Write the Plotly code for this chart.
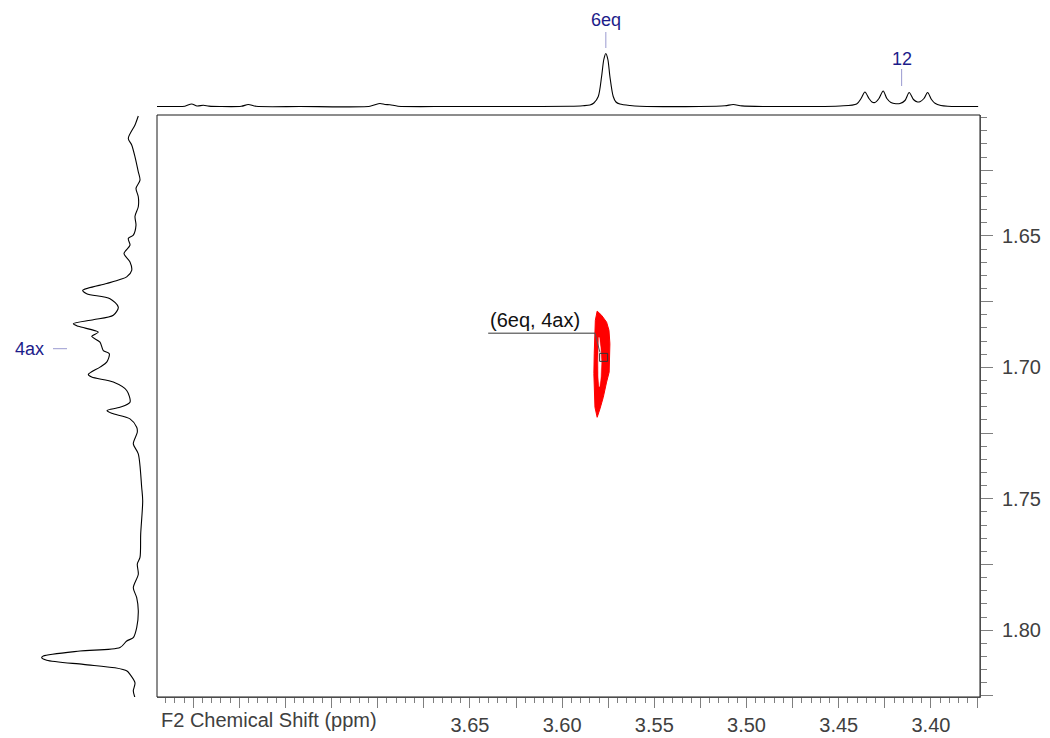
import plotly.graph_objects as go

# ---------------- data ----------------
# F2 (top) 1D projection: chemical shift (ppm) and intensity (a.u.)
top_ppm = [3.8197, 3.8100, 3.8046, 3.8009, 3.7980, 3.7946, 3.7915, 3.7856, 3.7740, 3.7702,
           3.7660, 3.7422, 3.7042, 3.6988, 3.6961, 3.6934, 3.6890, 3.6608, 3.6229, 3.5958,
           3.5887, 3.5849, 3.5828, 3.5804, 3.5786, 3.5774, 3.5763, 3.5752, 3.5741, 3.5723,
           3.5708, 3.5687, 3.5632, 3.5578, 3.5253, 3.5117, 3.5072, 3.5025, 3.4891, 3.4710,
           3.4493, 3.4403, 3.4379, 3.4358, 3.4336, 3.4320, 3.4304, 3.4282, 3.4259, 3.4239,
           3.4217, 3.4190, 3.4168, 3.4141, 3.4118, 3.4095, 3.4073, 3.4060, 3.4038, 3.4018,
           3.3997, 3.3978, 3.3946, 3.3908, 3.3744]
top_int = [0, 0, 0.3, 2.5, 0.5, 1.2, 0.4, 0, 0.2, 2.0,
           0.2, 0, 0.3, 3.0, 2.0, 1.8, 0.3, 0, 0, 0.3,
           0.8, 1.5, 3.5, 10, 30, 47, 53, 47, 30, 10,
           4.5, 2.5, 1.0, 0.3, 0, 0.7, 2.0, 0.6, 0, 0,
           0.5, 2.5, 8, 14.5, 8, 4.5, 4.0, 8, 15.5, 8,
           4.0, 2.8, 3.0, 6, 14, 7, 4.5, 4.8, 8, 14,
           7, 3.2, 1.0, 0.3, 0]

# F1 (left) 1D projection
left_ppm = [1.6044, 1.6078, 1.6129, 1.6154, 1.6199, 1.6256, 1.6288, 1.6319, 1.6351, 1.6389,
            1.6425, 1.6459, 1.6497, 1.6510, 1.6535, 1.6567, 1.6599, 1.6631, 1.6656, 1.6666,
            1.6681, 1.6707, 1.6720, 1.6739, 1.6771, 1.6802, 1.6819, 1.6834, 1.6844, 1.6866,
            1.6882, 1.6904, 1.6936, 1.6948, 1.6980, 1.6999, 1.7027, 1.7037, 1.7056, 1.7088,
            1.7133, 1.7152, 1.7164, 1.7175, 1.7196, 1.7228, 1.7247, 1.7291, 1.7329, 1.7457,
            1.7507, 1.7634, 1.7723, 1.7748, 1.7787, 1.7838, 1.7876, 1.7926, 1.7990, 1.8028,
            1.8041, 1.8066, 1.8079, 1.8098, 1.8104, 1.8114, 1.8130, 1.8143, 1.8155, 1.8168,
            1.8200, 1.8231, 1.8257]
left_int = [4.7, 8, 14.7, 11.3, 8, 4.7, 3, 7, 4.7, 4.7,
            8, 7, 9.7, 14.7, 13, 19, 13, 11.3, 16.3, 23,
            36.3, 60.3, 56.3, 33, 24.7, 29.7, 49.7, 69.7, 64.7, 44.7,
            51.3, 43, 39.7, 33.7, 36.3, 43, 54.7, 51.3, 29.7, 16.3,
            13, 23, 36, 31.3, 13, 6.3, 5.7, 9.7, 4.7, 1.3,
            0.3, 2.3, 3, 5.7, 4.7, 9.7, 6.3, 4.7, 6.3, 9.7,
            16.3, 23, 63, 99.7, 101.3, 96.3, 59.7, 28, 16, 13,
            8, 9.7, 8]

# 2D cross peak (6eq, 4ax) contour outline (F2 ppm, F1 ppm)
cross_outer_f2 = [3.5810, 3.5786, 3.5759, 3.5746, 3.5741, 3.5741, 3.5745, 3.5759, 3.5777, 3.5795,
                  3.5810, 3.5822, 3.5826, 3.5828, 3.5826, 3.5824, 3.5820, 3.5810]
cross_outer_f1 = [1.6786, 1.6802, 1.6828, 1.6859, 1.6910, 1.6974, 1.7018, 1.7056, 1.7114, 1.7158,
                  1.7190, 1.7152, 1.7088, 1.7024, 1.6948, 1.6872, 1.6821, 1.6786]
cross_inner_f2 = [3.5800, 3.5792, 3.5788, 3.5791, 3.5798, 3.5803, 3.5804, 3.5803, 3.5800]
cross_inner_f1 = [1.6886, 1.6928, 1.6981, 1.7035, 1.7073, 1.7035, 1.6974, 1.6924, 1.6886]

# peak pick of the cross peak
cross_pick_f2 = [3.5775]
cross_pick_f1 = [1.6962]
cross_label = "(6eq, 4ax)"

# assignment labels
top_labels = ["6eq", "12"]
top_label_ppm = [3.5763, 3.4159]
left_labels = ["4ax"]
left_label_ppm = [1.6929]

# axes
x_range = [3.8197, 3.3734]
y_range = [1.8254, 1.604]
x_tick_vals = [3.80, 3.775, 3.75, 3.725, 3.70, 3.675, 3.65, 3.625, 3.60, 3.575,
               3.55, 3.525, 3.50, 3.475, 3.45, 3.425, 3.40, 3.375]
x_tick_text = ["", "", "", "", "", "", "3.65", "", "3.60", "",
               "3.55", "", "3.50", "", "3.45", "", "3.40", ""]
y_tick_vals = [1.625, 1.65, 1.675, 1.70, 1.725, 1.75, 1.775, 1.80, 1.825]
y_tick_text = ["", "1.65", "", "1.70", "", "1.75", "", "1.80", ""]
x_title = "F2 Chemical Shift (ppm)"

# ---------------- figure ----------------
W, H = 1050, 738
FONT = "Arial, Liberation Sans, sans-serif"
AXC = "#7f7f7f"
TXT = "#404040"
NAVY = "#1c1c8a"
LEAD = "#9a9ad0"

def px_x(p):
    return p / W

def px_y(p):
    return 1 - p / H

main_xdom = [px_x(157), px_x(980)]
main_ydom = [px_y(697), px_y(115)]

fig = go.Figure()

# cross peak
fig.add_trace(go.Scatter(x=cross_outer_f2, y=cross_outer_f1, mode="lines", fill="toself",
                         fillcolor="#ff0000", line=dict(color="#ff0000", width=1),
                         xaxis="x", yaxis="y", hoverinfo="skip"))
fig.add_trace(go.Scatter(x=cross_inner_f2, y=cross_inner_f1, mode="lines", fill="toself",
                         fillcolor="#ffffff", line=dict(color="#ffffff", width=0.5),
                         xaxis="x", yaxis="y", hoverinfo="skip"))
fig.add_trace(go.Scatter(x=cross_pick_f2, y=cross_pick_f1, mode="markers",
                         marker=dict(symbol="square-open", size=8, color="#333333",
                                     line=dict(width=1)),
                         xaxis="x", yaxis="y", hoverinfo="skip"))

# top projection
fig.add_trace(go.Scatter(x=top_ppm, y=top_int, mode="lines",
                         line=dict(color="#000000", width=1.1, shape="spline", smoothing=0.8),
                         xaxis="x2", yaxis="y2", hoverinfo="skip"))
# left projection
fig.add_trace(go.Scatter(x=left_int, y=left_ppm, mode="lines",
                         line=dict(color="#000000", width=1.1, shape="spline", smoothing=0.8),
                         xaxis="x3", yaxis="y3", hoverinfo="skip"))

shapes = []
annotations = []

# frame of the 2D plot
shapes.append(dict(type="rect", xref="x domain", yref="y domain", x0=0, x1=1, y0=0, y1=1,
                   line=dict(color="#1a1a1a", width=1)))

# top labels
label_y = [20, 59]
lead_y = [(32, 48), (69, 86)]
for lab, ppm, ly, (a, b) in zip(top_labels, top_label_ppm, label_y, lead_y):
    annotations.append(dict(text=lab, x=ppm, xref="x", y=px_y(ly), yref="paper",
                            showarrow=False, xanchor="center", yanchor="middle",
                            font=dict(family=FONT, size=18, color=NAVY)))
    shapes.append(dict(type="line", xref="x", yref="paper", x0=ppm, x1=ppm,
                       y0=px_y(a), y1=px_y(b), line=dict(color=LEAD, width=1)))

# left labels
for lab, ppm in zip(left_labels, left_label_ppm):
    annotations.append(dict(text=lab, x=px_x(29), xref="paper", y=ppm, yref="y",
                            showarrow=False, xanchor="center", yanchor="middle",
                            font=dict(family=FONT, size=18, color=NAVY)))
    shapes.append(dict(type="line", xref="paper", yref="y", x0=px_x(53), x1=px_x(67),
                       y0=ppm, y1=ppm, line=dict(color=LEAD, width=1)))

# cross peak label with leader
lx0, lx1, lx2 = 3.6401, 3.5822, 3.5795
ly0, ly2 = 1.6870, 1.6943
annotations.append(dict(text=cross_label, x=lx0, xref="x", y=ly0, yref="y",
                        showarrow=False, xanchor="left", yanchor="bottom", yshift=0,
                        font=dict(family=FONT, size=20, color="#111111")))
shapes.append(dict(type="line", xref="x", yref="y", x0=lx0, x1=lx1, y0=ly0, y1=ly0,
                   line=dict(color="#333333", width=1)))
shapes.append(dict(type="line", xref="x", yref="y", x0=lx1, x1=lx2, y0=ly0, y1=ly2,
                   line=dict(color="#555555", width=1)))

# x axis title
annotations.append(dict(text=x_title, x=px_x(159), xref="paper", y=px_y(720), yref="paper",
                        showarrow=False, xanchor="left", yanchor="middle",
                        font=dict(family=FONT, size=20, color=TXT)))

fig.update_layout(
    width=W, height=H, margin=dict(l=0, r=0, t=0, b=0), autosize=False,
    paper_bgcolor="white", plot_bgcolor="white", showlegend=False,
    font=dict(family=FONT, color=TXT),
    xaxis=dict(domain=main_xdom, range=x_range, anchor="y", side="bottom",
               showgrid=False, zeroline=False, showline=True, linecolor=AXC, linewidth=1,
               tickmode="array", tickvals=x_tick_vals, ticktext=x_tick_text,
               ticks="outside", ticklen=10, tickcolor=AXC, tickwidth=1,
               ticklabelstandoff=0,
               tickfont=dict(family=FONT, size=20, color=TXT),
               minor=dict(tickmode="linear", tick0=3.4, dtick=0.005, ticks="outside",
                          ticklen=5, tickcolor=AXC, showgrid=False)),
    yaxis=dict(domain=main_ydom, range=y_range, anchor="x", side="right",
               showgrid=False, zeroline=False, showline=True, linecolor=AXC, linewidth=1,
               tickmode="array", tickvals=y_tick_vals, ticktext=y_tick_text,
               ticks="outside", ticklen=12, tickcolor=AXC, tickwidth=1,
               ticklabelstandoff=5,
               tickfont=dict(family=FONT, size=20, color=TXT),
               minor=dict(tickmode="linear", tick0=1.6, dtick=0.005, ticks="outside",
                          ticklen=6, tickcolor=AXC, showgrid=False)),
    xaxis2=dict(domain=main_xdom, range=x_range, anchor="y2", visible=False),
    yaxis2=dict(domain=[px_y(110), px_y(40)], range=[-3.5, 66.5], anchor="x2", visible=False),
    xaxis3=dict(domain=[px_x(20), px_x(150)], range=[123, -7], anchor="y3", visible=False),
    yaxis3=dict(domain=main_ydom, range=y_range, anchor="x3", visible=False),
    shapes=shapes, annotations=annotations,
)

fig.write_html("out.html")
